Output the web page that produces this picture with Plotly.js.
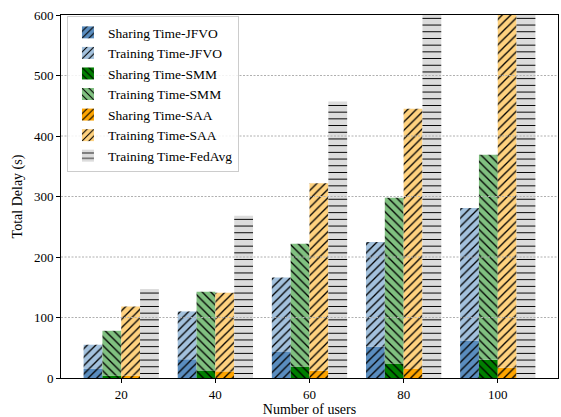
<!DOCTYPE html>
<html>
<head>
<meta charset="utf-8">
<script src="https://cdn.plot.ly/plotly-3.0.1.min.js"></script>
<style>html,body{margin:0;padding:0;background:#fff;}#chart{width:561px;height:417px;}</style>
</head>
<body>
<div id="chart"></div>
<script>
const users = ['20', '40', '60', '80', '100'];
const yTicks = [0, 100, 200, 300, 400, 500, 600];

const sharingJFVO = [15, 31, 44, 52, 62];
const trainingJFVO = [40, 79, 122, 173, 219];
const sharingSMM = [4, 12.5, 19, 24, 30];
const trainingSMM = [74, 130, 203, 274, 339];
const sharingSAA = [4, 11, 12, 15, 17];
const trainingSAA = [114, 130, 310, 430, 700];
const trainingFedAvg = [147, 268, 457, 650, 850];

const W = 0.2;
const font = 'Liberation Serif, Times New Roman, serif';

function bar(name, y, base, offset, color, shape, pSize, solidity) {
  const t = {
    type: 'bar', name: name, x: users, y: y,
    offset: offset, width: W,
    marker: {
      color: color,
      line: {width: 0},
      pattern: {shape: shape, fgcolor: '#000', bgcolor: color, size: pSize, solidity: solidity, fillmode: 'replace'}
    },
    hoverinfo: 'skip'
  };
  if (base) t.base = base;
  return t;
}

const data = [
  bar('Sharing Time-JFVO', sharingJFVO, null, -2 * W, '#5a8dbf', '/', 6, 0.22),
  bar('Training Time-JFVO', trainingJFVO, sharingJFVO, -2 * W, '#a3c1dd', '/', 6, 0.22),
  bar('Sharing Time-SMM', sharingSMM, null, -W, '#007f00', '\\', 6, 0.22),
  bar('Training Time-SMM', trainingSMM, sharingSMM, -W, '#80c080', '\\', 6, 0.22),
  bar('Sharing Time-SAA', sharingSAA, null, 0, '#ffa500', '/', 6, 0.22),
  bar('Training Time-SAA', trainingSAA, sharingSAA, 0, '#ffd27f', '/', 6, 0.22),
  bar('Training Time-FedAvg', trainingFedAvg, null, W, '#dcdcdc', '-', 6.7, 0.15)
];

const gridShapes = yTicks.slice(1, -1).map(v => ({
  type: 'line', xref: 'paper', yref: 'y', x0: 0, x1: 1, y0: v, y1: v,
  line: {color: '#b0b0b0', width: 1, dash: '2px,1.5px'}, layer: 'above'
}));

const layout = {
  width: 561, height: 417,
  margin: {l: 61, r: 3, t: 15, b: 39},
  paper_bgcolor: '#fff', plot_bgcolor: '#fff',
  barmode: 'overlay',
  font: {family: font, size: 13, color: '#000'},
  showlegend: true,
  shapes: gridShapes,
  legend: {
    x: 0.012, y: 0.997, xanchor: 'left', yanchor: 'top',
    bgcolor: 'rgba(255,255,255,0.85)', bordercolor: '#cccccc', borderwidth: 1,
    font: {family: font, size: 13.5, color: '#000'},
    traceorder: 'normal', tracegroupgap: 0
  },
  xaxis: {
    type: 'category', categoryorder: 'array', categoryarray: users,
    range: [-0.64, 4.64],
    showline: true, linecolor: '#000', linewidth: 1, mirror: true,
    ticks: 'outside', ticklen: 4, tickcolor: '#000',
    showgrid: false, zeroline: false,
    tickfont: {family: font, size: 13},
    title: {text: 'Number of users', font: {family: font, size: 14}, standoff: 2}
  },
  yaxis: {
    range: [0, 600], tickvals: yTicks,
    showline: true, linecolor: '#000', linewidth: 1, mirror: true,
    ticks: 'outside', ticklen: 4, tickcolor: '#000',
    showgrid: false,
    zeroline: false,
    tickfont: {family: font, size: 13},
    title: {text: 'Total Delay (s)', font: {family: font, size: 14}, standoff: 8}
  }
};

Plotly.newPlot('chart', data, layout, {displayModeBar: false, staticPlot: true});
</script>
</body>
</html>
